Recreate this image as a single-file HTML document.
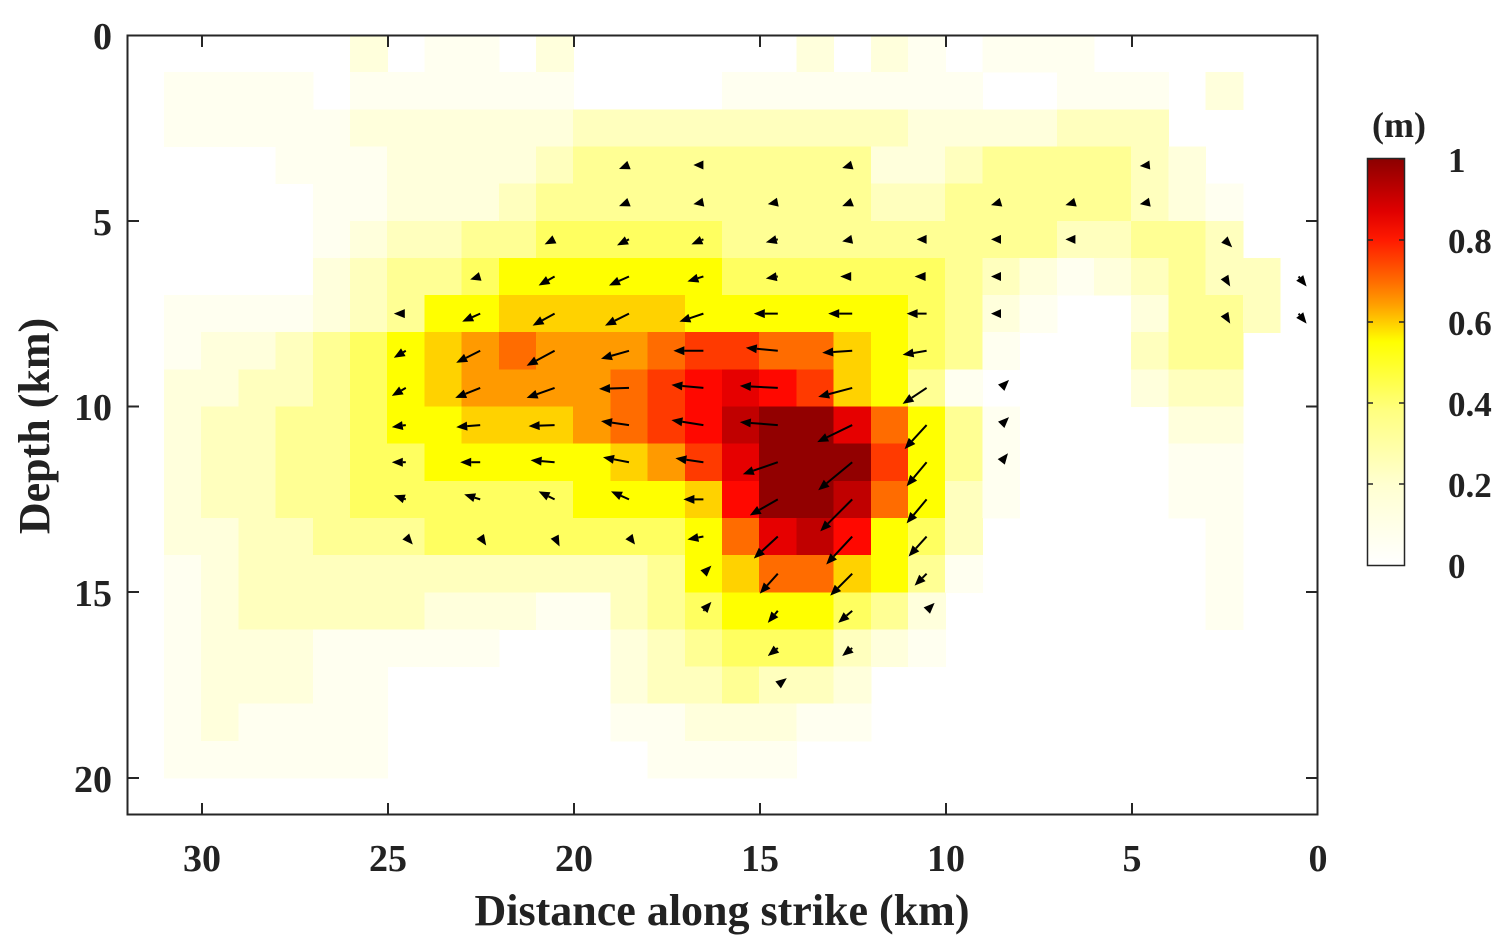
<!DOCTYPE html>
<html><head><meta charset="utf-8"><style>
body{margin:0;background:#fff;}
svg text{font-family:"Liberation Serif",serif;font-weight:bold;fill:#222;}
</style></head><body>
<svg id="s" width="1511" height="944" xmlns="http://www.w3.org/2000/svg">
<defs><linearGradient id="cb" x1="0" y1="0" x2="0" y2="1">
<stop offset="0" stop-color="#8b0000"/><stop offset="0.13" stop-color="#e00000"/><stop offset="0.2" stop-color="#ff1a00"/><stop offset="0.3" stop-color="#ff6a00"/><stop offset="0.36" stop-color="#ffa000"/><stop offset="0.45" stop-color="#ffff00"/><stop offset="0.62" stop-color="#ffff80"/><stop offset="0.8" stop-color="#ffffd0"/><stop offset="1" stop-color="#ffffff"/></linearGradient></defs>
<g id="cells" shape-rendering="crispEdges"></g>
<g id="arr"></g>
<rect x="127.5" y="35.5" width="1190" height="779" fill="none" stroke="#262626" stroke-width="2"/>
<g stroke="#262626" stroke-width="2" id="ticks"></g>
<g font-size="38" text-anchor="middle">
<text x="202" y="871">30</text><text x="388" y="871">25</text><text x="574" y="871">20</text><text x="760" y="871">15</text><text x="946" y="871">10</text><text x="1132" y="871">5</text><text x="1318" y="871">0</text>
</g>
<g font-size="38" text-anchor="end">
<text x="112" y="49">0</text><text x="112" y="235">5</text><text x="112" y="420">10</text><text x="112" y="606">15</text><text x="112" y="792">20</text>
</g>
<text x="722" y="925" font-size="44" text-anchor="middle">Distance along strike (km)</text>
<text transform="translate(49,426) rotate(-90)" font-size="44" text-anchor="middle">Depth (km)</text>
<rect x="1367.5" y="158.5" width="37" height="407" fill="url(#cb)" stroke="#262626" stroke-width="1.5"/>
<g stroke="#262626" stroke-width="1.5">
<line x1="1367" y1="159" x2="1373" y2="159"/><line x1="1405" y1="159" x2="1399" y2="159"/>
<line x1="1367" y1="240" x2="1373" y2="240"/><line x1="1405" y1="240" x2="1399" y2="240"/>
<line x1="1367" y1="322" x2="1373" y2="322"/><line x1="1405" y1="322" x2="1399" y2="322"/>
<line x1="1367" y1="403" x2="1373" y2="403"/><line x1="1405" y1="403" x2="1399" y2="403"/>
<line x1="1367" y1="484" x2="1373" y2="484"/><line x1="1405" y1="484" x2="1399" y2="484"/>
</g>
<g font-size="35">
<text x="1448" y="172">1</text><text x="1448" y="253">0.8</text><text x="1448" y="335">0.6</text><text x="1448" y="416">0.4</text><text x="1448" y="497">0.2</text><text x="1448" y="578">0</text>
</g>
<text x="1399" y="137" font-size="36" text-anchor="middle">(m)</text>
</svg>
<script>
var rows=[
"....."+"2"+"."+"11"+"."+"2"+"......"+"2"+"."+"2"+"1"+"."+"111"+"......",
"1111"+"."+"111111"+"...."+"111111"+"1"+".."+"111"+"."+"2"+"..",
"11111"+"22"+"2222"+"3333"+"33333"+"2"+"222"+"333"+"....",
"..."+"111"+"2222"+"3"+"44444444"+"22"+"3"+"4444"+"3"+"2"+"...",
"...."+"11"+"222"+"3"+"444444444"+"33"+"44444"+"3"+"2"+"1"+"..",
"...."+"1"+"2"+"33"+"44"+"55555"+"444444444"+"33"+"44"+"3"+"..",
"...."+"2"+"3"+"44"+"5"+"666666"+"555555"+"4"+"3"+"2"+"1"+"2"+"3"+"4"+"33"+".",
"1111"+"2"+"3"+"4"+"66"+"77777"+"666666"+"5"+"4"+"2"+"1"+".."+"2"+"44"+"3"+".",
"1"+"22"+"3"+"4"+"5"+"6"+"7"+"8"+"9"+"888"+"9"+"aa"+"99"+"7"+"6"+"5"+"4"+"1"+"..."+"3"+"44"+"..",
"22"+"33"+"4"+"5"+"6"+"7"+"8888"+"9"+"a"+"b"+"c"+"b"+"a"+"7"+"6"+"4"+"1"+"...."+"2"+"33"+"..",
"2"+"33"+"44"+"5"+"66"+"777"+"8"+"9"+"a"+"b"+"d"+"ee"+"c"+"9"+"6"+"4"+"1"+"...."+"22"+"..",
"2"+"33"+"44"+"55"+"66666"+"7"+"8"+"a"+"c"+"eee"+"a"+"6"+"4"+"1"+"...."+"11"+"..",
"2"+"33"+"44"+"555555"+"666"+"7"+"b"+"ee"+"d"+"9"+"6"+"3"+"1"+"...."+"11"+"..",
"22"+"33"+"444"+"5555555"+"6"+"9"+"c"+"d"+"b"+"6"+"5"+"3"+"......"+"1"+"..",
"1"+"2"+"33333333333"+"4"+"6"+"7"+"99"+"7"+"6"+"4"+"1"+"......"+"1"+"..",
"1"+"2"+"33333"+"222"+"11"+"3"+"4"+"5"+"666"+"5"+"4"+"2"+"......."+"1"+"..",
"1"+"222"+"11111"+"..."+"2"+"3"+"4"+"555"+"3"+"2"+"1"+"..........",
"1"+"222"+"11"+"......"+"2"+"33"+"4"+"33"+"2"+"............",
"1"+"2"+"1111"+"......"+"11"+"222"+"11"+"............",
"111111"+"......."+"1111"+".............."];
var col={'1':'#fffff0','2':'#ffffdc','3':'#ffffbe','4':'#ffff94','5':'#ffff60','6':'#ffff00','7':'#ffd200','8':'#ff9a00','9':'#ff6c00','a':'#ff3a00','b':'#ff0800','c':'#e60000','d':'#c00000','e':'#920000'};
var g=document.getElementById('cells'),h='';
for(var r=0;r<20;r++){for(var c=0;c<31;c++){var ch=rows[r][c];if(!ch||!col[ch])continue;
var x=164+37.2*c,y=35+37.15*r;h+='<rect x="'+x.toFixed(1)+'" y="'+y.toFixed(1)+'" width="37.8" height="37.7" fill="'+col[ch]+'"/>';}}
g.innerHTML=h;
var A=[
[3,12,-10,4],[3,14,-10,0],[3,18,-10,3],[3,26,-10,1],
[4,12,-10,4],[4,14,-10,2],[4,16,-10,2],[4,18,-10,4],[4,22,-10,3],[4,24,-10,3],[4,26,-10,2],
[5,10,-10,5],[5,12,-12,6],[5,14,-12,5],[5,16,-12,3],[5,18,-10,2],[5,20,-10,0],[5,22,-10,0],[5,24,-10,0],[5,28,8,8],
[6,8,-10,3],[6,10,-16,9],[6,12,-20,9],[6,14,-16,5],[6,16,-12,2],[6,18,-12,0],[6,20,-12,0],[6,22,-10,0],[6,28,6,10],[6,30,8,10],
[7,6,-12,0],[7,8,-18,8],[7,10,-22,12],[7,12,-24,12],[7,14,-24,8],[7,16,-24,0],[7,18,-24,0],[7,20,-20,0],[7,22,-10,0],[7,28,6,10],[7,30,8,10],
[8,6,-12,7],[8,8,-24,12],[8,10,-28,15],[8,12,-28,8],[8,14,-30,0],[8,16,-32,-3],[8,18,-30,2],[8,20,-24,4],
[9,6,-14,8],[9,8,-25,10],[9,10,-28,10],[9,12,-30,1],[9,14,-32,-3],[9,16,-38,-2],[9,18,-34,9],[9,20,-24,16],[9,22,8,-8],
[10,6,-14,2],[10,8,-24,2],[10,10,-26,1],[10,12,-28,-4],[10,14,-32,-5],[10,16,-38,-3],[10,18,-35,17],[10,20,-22,24],[10,22,8,-8],
[11,6,-14,0],[11,8,-20,0],[11,10,-24,-2],[11,12,-26,-5],[11,14,-28,-4],[11,16,-35,12],[11,18,-34,28],[11,20,-20,24],[11,22,7,-9],
[12,6,-12,-4],[12,8,-16,-5],[12,10,-16,-8],[12,12,-18,-8],[12,14,-20,0],[12,16,-28,16],[12,18,-32,32],[12,20,-20,24],
[13,6,7,8],[13,8,6,9],[13,10,5,10],[13,12,6,8],[13,14,-16,3],[13,16,-24,22],[13,18,-26,28],[13,20,-18,20],
[14,14,8,-8],[14,16,-18,20],[14,18,-22,22],[14,20,-12,12],
[15,14,8,-9],[15,16,-10,12],[15,18,-14,12],[15,20,8,-8],
[16,16,-10,8],[16,18,-10,8],[17,16,9,-7]];
var s='';
A.forEach(function(a){var x0=164+37.2*(a[1]+0.5),y0=35+37.15*(a[0]+0.5);var dx=a[2],dy=a[3];var L=Math.sqrt(dx*dx+dy*dy);
var ux=dx/L,uy=dy/L,x1=x0+dx,y1=y0+dy,hl=Math.min(11,L),hw=4.5;var bx=x1-ux*hl,by=y1-uy*hl;
if(L>hl+1)s+='<line x1="'+x0+'" y1="'+y0+'" x2="'+bx+'" y2="'+by+'" stroke="#000" stroke-width="2"/>';
s+='<polygon points="'+x1+','+y1+' '+(bx-uy*hw)+','+(by+ux*hw)+' '+(bx+uy*hw)+','+(by-ux*hw)+'" fill="#000"/>';});
document.getElementById('arr').innerHTML=s;
var t='';[202,388,574,760,946,1132].forEach(function(x){t+='<line x1="'+x+'" y1="815" x2="'+x+'" y2="803"/><line x1="'+x+'" y1="35" x2="'+x+'" y2="47"/>';});
[221,406.5,592,778].forEach(function(y){t+='<line x1="127" y1="'+y+'" x2="139" y2="'+y+'"/><line x1="1318" y1="'+y+'" x2="1306" y2="'+y+'"/>';});
document.getElementById('ticks').innerHTML=t;
</script>
</body></html>
